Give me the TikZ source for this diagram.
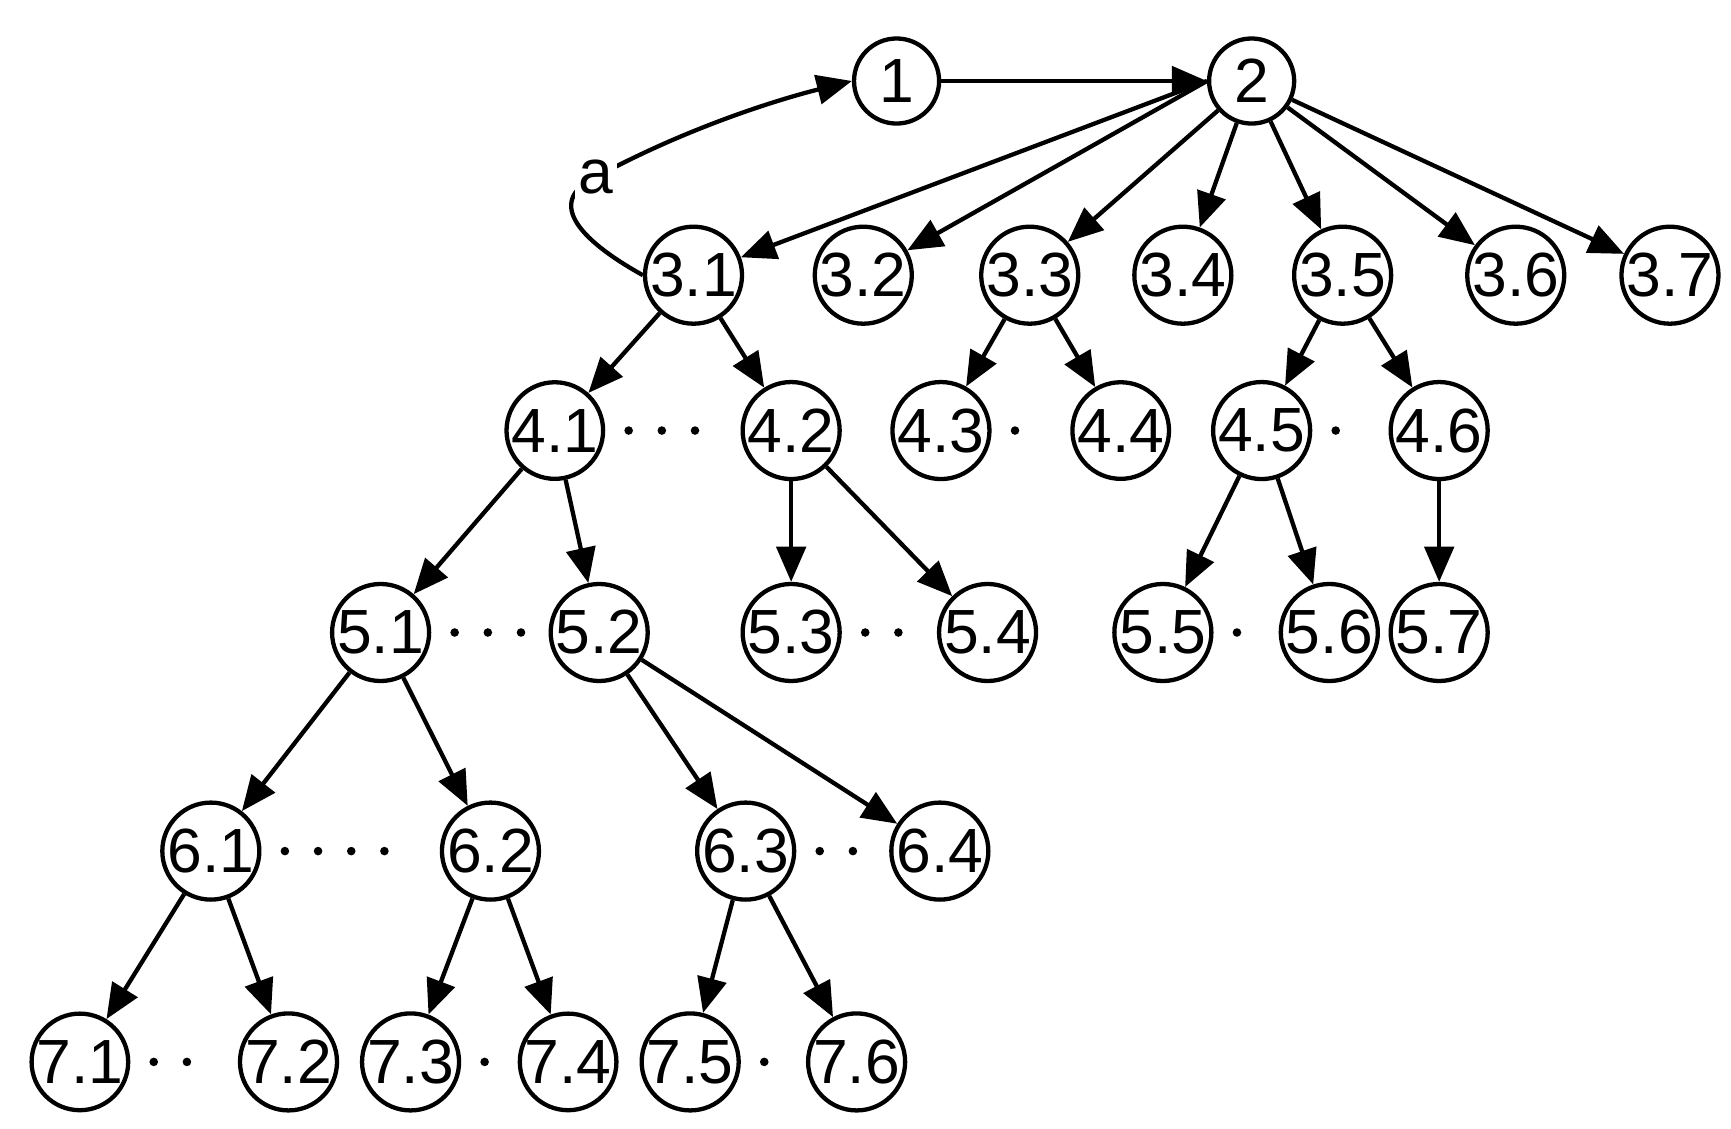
\documentclass[tikz,border=0pt]{standalone}
\usepackage{fontspec}
\setmainfont{Liberation Sans}
\usetikzlibrary{arrows.meta}
\begin{document}
\begin{tikzpicture}[x=0.01cm,y=-0.01cm,
  n/.style={circle,draw,line width=1.1pt,minimum size=21.8pt,inner sep=0pt,font=\fontsize{16}{16}\selectfont},
  e/.style={line width=1.1pt,-{Triangle[length=9pt,width=7.5pt]}},
  d/.style={line width=2.2pt,dash pattern=on 0pt off 8.5pt,line cap=round,shorten <=6pt,shorten >=6pt}]
\useasboundingbox (0,0) rectangle (1560,1017);
\foreach \a/\b/\x/\y in {1/0/808/73,2/0/1128/73,
 3/1/625/248,3/2/778/248,3/3/928/248,3/4/1066/248,3/5/1210/248,3/6/1366/248,3/7/1505/248,
 4/1/500/388,4/2/713/388,4/3/848/388,4/4/1010/388,4/5/1137/388,4/6/1297/388,
 5/1/343/570,5/2/540/570,5/3/713/570,5/4/890/570,5/5/1048/570,5/6/1198/570,5/7/1297/570,
 6/1/190/767,6/2/442/767,6/3/672/767,6/4/847/767,
 7/1/72/957,7/2/260/957,7/3/370/957,7/4/512/957,7/5/622/957,7/6/772/957}
 {\ifnum\b=0 \node[n] (n\a-\b) at (\x,\y) {\a};
  \else \node[n] (n\a-\b) at (\x,\y) {\a.\b};\fi}
\draw[e] (n1-0) -- (n2-0.west);
\foreach \t in {1,2} \draw[e] (n2-0.west) -- (n3-\t);
\foreach \t in {3,4,5,6,7} \draw[e] (n2-0) -- (n3-\t);
\foreach \s/\t in {3-1/4-1,3-1/4-2,3-3/4-3,3-3/4-4,3-5/4-5,3-5/4-6,
 4-1/5-1,4-1/5-2,4-2/5-3,4-2/5-4,4-5/5-5,4-5/5-6,4-6/5-7,
 5-1/6-1,5-1/6-2,5-2/6-3,5-2/6-4,6-1/7-1,6-1/7-2,6-2/7-3,6-2/7-4,6-3/7-5,6-3/7-6}
 \draw[e] (n\s) -- (n\t);
\foreach \s/\t in {4-1/4-2,4-3/4-4,4-5/4-6,5-1/5-2,5-3/5-4,5-5/5-6,6-1/6-2,6-3/6-4,7-1/7-2,7-3/7-4,7-5/7-6}
 \draw[d] (n\s.east) -- (n\t.west);
\draw[e] (n3-1.west) .. controls (520,215) and (490,180) .. (540,158)
  node[fill=white,inner sep=1pt,font=\fontsize{16}{16}\selectfont,pos=0.98]{a}
  .. controls (620,115) and (700,90) .. (n1-0.west);
\end{tikzpicture}
\end{document}
